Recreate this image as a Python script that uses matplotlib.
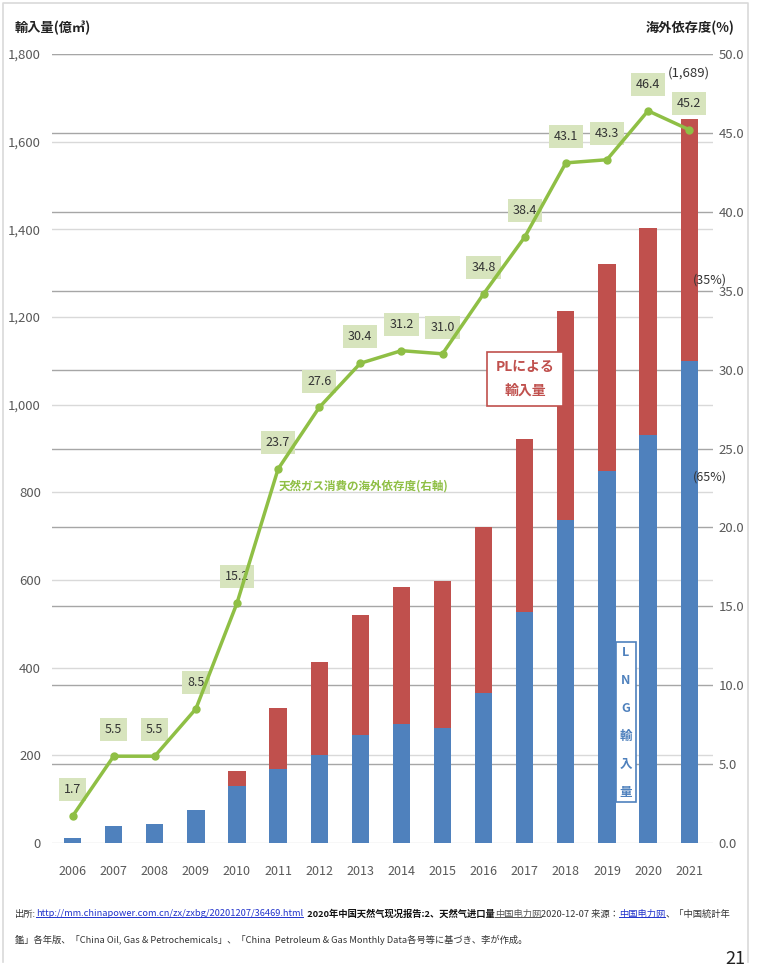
import matplotlib
matplotlib.use('Agg')
import matplotlib.pyplot as plt
from matplotlib.lines import Line2D
from matplotlib.ticker import FuncFormatter

plt.rcParams['font.family'] = ['Noto Sans CJK JP', 'DejaVu Sans']

# data
years = ['2006', '2007', '2008', '2009', '2010', '2011', '2012', '2013',
         '2014', '2015', '2016', '2017', '2018', '2019', '2020', '2021']
lng = [11, 39, 43, 75, 130, 168, 200, 247, 271, 262, 342, 527, 736, 848, 930, 1100]
total = [11, 39, 43, 75, 164, 308, 413, 520, 584, 597, 720, 921, 1213, 1322, 1402, 1652]
pipeline = [t - l for t, l in zip(total, lng)]
dependence = [1.7, 5.5, 5.5, 8.5, 15.2, 23.7, 27.6, 30.4, 31.2, 31.0,
              34.8, 38.4, 43.1, 43.3, 46.4, 45.2]
left_ticks = list(range(0, 1801, 200))
right_ticks = [i * 5 for i in range(11)]

blue = '#4f81bd'
red = '#c0504d'
green = '#8fbf45'
tick_grey = '#595959'

fig = plt.figure(figsize=(7.62, 9.66), dpi=100)
W, H = 762, 966
ax = fig.add_axes([52 / W, 1 - 843 / H, (713 - 52) / W, (843 - 54) / H])
ax2 = ax.twinx()

x = list(range(len(years)))
ax.bar(x, lng, width=0.42, color=blue, zorder=3)
ax.bar(x, pipeline, bottom=lng, width=0.42, color=red, zorder=3)

ax.set_xlim(-0.5, 15.58)
ax.set_ylim(0, 1800)
ax.set_yticks(left_ticks)
ax.yaxis.set_major_formatter(FuncFormatter(lambda v, p: f'{int(v):,}'))
ax.set_xticks(x)
ax.set_xticklabels(years)
for v in left_ticks:
    ax.axhline(v, color='#d9d9d9', lw=1, zorder=1)
# right axis grid drawn behind the bars
for v in right_ticks[1:]:
    ax.axhline(v * 1800 / 50, color='#a6a6a6', lw=1, zorder=1)

ax2.set_ylim(0, 50)
ax2.set_yticks(right_ticks)
ax2.yaxis.set_major_formatter(FuncFormatter(lambda v, p: f'{v:.1f}'))

for a in (ax, ax2):
    for s in a.spines.values():
        s.set_visible(False)
ax.tick_params(axis='y', length=0, pad=8, labelsize=9.5, labelcolor=tick_grey)
ax.tick_params(axis='x', length=0, pad=16, labelsize=9, labelcolor=tick_grey)
ax2.tick_params(axis='y', length=0, pad=4, labelsize=9.5, labelcolor=tick_grey)

ax2.plot(x, dependence, color=green, lw=2.5, marker='o', ms=5, zorder=5)
for i, v in enumerate(dependence):
    ax2.annotate(f'{v:.1f}', (i, v), xytext=(0, 19), textcoords='offset points',
                 ha='center', va='center', fontsize=9, color='#333333',
                 bbox=dict(boxstyle='square,pad=0.4', fc='#d7e4bd', ec='none'))

ax.text(15, 1757, '(1,689)', ha='center', va='center', fontsize=9.5, color='#333333')
ax.text(15.5, 1285, '(35%)', ha='center', va='center', fontsize=9, color='#333333',
        clip_on=False, zorder=6)
ax.text(15.5, 835, '(65%)', ha='center', va='center', fontsize=9, color='#333333',
        clip_on=False, zorder=6)

ax.text(11.01, 1059, 'PLによる\n輸入量', ha='center', va='center', fontsize=10,
        fontweight='bold', color=red, linespacing=1.8, zorder=6,
        bbox=dict(boxstyle='square,pad=0.6', fc='white', ec=red, lw=1.2))
ax.text(13.46, 276, 'L\nN\nG\n輸\n入\n量', ha='center', va='center', fontsize=9,
        fontweight='bold', color=blue, linespacing=2.5, zorder=6,
        bbox=dict(boxstyle='square,pad=0.3', fc='white', ec=blue, lw=1.2))
ax.text(5.01, 814, '天然ガス消費の海外依存度(右軸)', ha='left', va='center',
        fontsize=8.3, fontweight='bold', color=green, zorder=6)

fig.text(15 / W, 1 - 28 / H, '輸入量(億㎥)', ha='left', va='center', fontsize=9.5,
         fontweight='bold', color='#222222')
fig.text(735 / W, 1 - 28 / H, '海外依存度(%)', ha='right', va='center', fontsize=9.5,
         fontweight='bold', color='#222222')

# footer, chained piece by piece
link_blue = '#2233cc'
line1 = [('出所:', '#333333', 'normal', False),
         ('http://mm.chinapower.com.cn/zx/zxbg/20201207/36469.html', link_blue, 'normal', True),
         ('  2020年中国天然气现况报告:2、天然气进口量', '#111111', 'bold', False),
         ('中国电力网', '#555555', 'normal', True),
         ('2020-12-07 来源：', '#333333', 'normal', False),
         ('中国电力网', link_blue, 'normal', True),
         ('、「中国統計年', '#333333', 'normal', False)]
line2 = [('鑑」各年版、「China Oil, Gas & Petrochemicals」、「China  Petroleum & Gas Monthly Data各号等に基づき、李が作成。',
          '#333333', 'normal', False)]

underlined = []
for pieces, ypx in ((line1, 914), (line2, 940)):
    prev = None
    for txt, col, wt, ul in pieces:
        if prev is None:
            prev = fig.text(15 / W, 1 - ypx / H, txt, color=col, fontweight=wt,
                            fontsize=6.7, va='center', ha='left')
        else:
            prev = ax.annotate(txt, xy=(1, 0), xycoords=prev, va='bottom', ha='left',
                               color=col, fontweight=wt, fontsize=6.7,
                               annotation_clip=False)
        if ul:
            underlined.append((prev, col))

fig.text(745 / W, 1 - 950 / H, '21', ha='right', va='top', fontsize=13, color='#222222')

# thin frame round the slide (left, top, right)
fx0, fx1, fy0, fy1 = 3 / W, 748 / W, 1 - 3 / H, 1 - 962 / H
fig.add_artist(Line2D([fx0, fx0, fx1, fx1], [fy1, fy0, fy0, fy1], color='#d9d9d9',
                      lw=1.2, transform=fig.transFigure))

fig.canvas.draw()
r = fig.canvas.get_renderer()
for t, col in underlined:
    bb = t.get_window_extent(r)
    y0 = (bb.y0 + 2) / H
    fig.add_artist(Line2D([bb.x0 / W, bb.x1 / W], [y0, y0], color=col, lw=0.7,
                          transform=fig.transFigure))

fig.savefig('out.png', dpi=100)
